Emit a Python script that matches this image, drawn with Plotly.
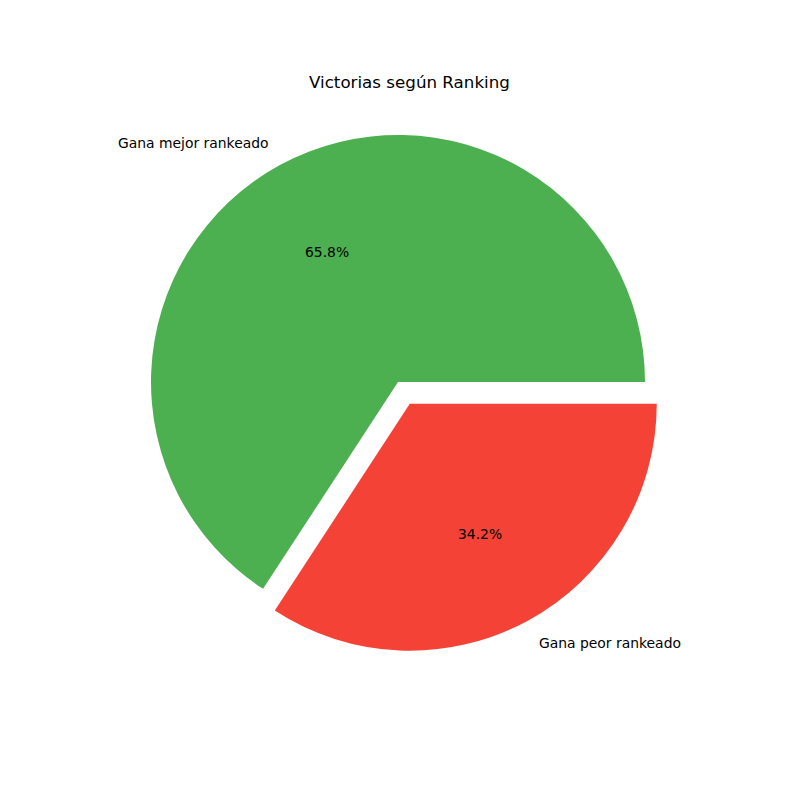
import math
import plotly.graph_objects as go

labels = ["Gana mejor rankeado", "Gana peor rankeado"]
values = [65.8, 34.2]
colors = ["#4CAF50", "#F44336"]
pulls = [0, 0.1]
title = "Victorias según Ranking"

W = H = 800
# pie geometry (pixels)
cx, cy, R = 398.0, 382.0, 247.0
half = R * (1 + max(pulls))
dom_x = [(cx - half) / W, (cx + half) / W]
dom_y = [1 - (cy + half) / H, 1 - (cy - half) / H]

total = sum(values)
# matplotlib-style: first slice starts at 3 o'clock and goes counterclockwise
rot = 90 - 360 * values[0] / total

fig = go.Figure(go.Pie(
    labels=labels, values=values, sort=False,
    direction="counterclockwise", rotation=rot,
    pull=pulls, marker=dict(colors=colors, line=dict(width=0)),
    textinfo="none", hoverinfo="label+percent",
    domain=dict(x=dom_x, y=dom_y), showlegend=False,
))

ann = []
start = 0.0
font = dict(family="DejaVu Sans", size=13.9, color="black")
for lab, v, p in zip(labels, values, pulls):
    span = 360 * v / total
    mid = math.radians(start + span / 2)
    ox = cx + p * R * math.cos(mid)
    oy = cy - p * R * math.sin(mid)
    lx = ox + 1.1 * R * math.cos(mid)
    ly = oy - 1.1 * R * math.sin(mid)
    right = math.cos(mid) > 0
    ann.append(dict(x=lx / W, y=1 - ly / H, xref="paper", yref="paper",
                    text=lab, showarrow=False, font=font,
                    xanchor="left" if right else "right",
                    xshift=-2 if right else 2,
                    yanchor="middle"))
    px = ox + 0.6 * R * math.cos(mid)
    py = oy - 0.6 * R * math.sin(mid)
    ann.append(dict(x=px / W, y=1 - py / H, xref="paper", yref="paper",
                    text=f"{100 * v / total:.1f}%", showarrow=False, font=font,
                    xanchor="center", yanchor="middle"))
    start += span

ann.append(dict(x=410 / W, y=1 - 82 / H, xref="paper", yref="paper",
                text=title, showarrow=False,
                font=dict(family="DejaVu Sans", size=16.7, color="black"),
                xanchor="center", yanchor="middle"))

fig.update_layout(width=W, height=H, margin=dict(l=0, r=0, t=0, b=0),
                  paper_bgcolor="white", plot_bgcolor="white",
                  annotations=ann)
fig.write_html("out.html")
